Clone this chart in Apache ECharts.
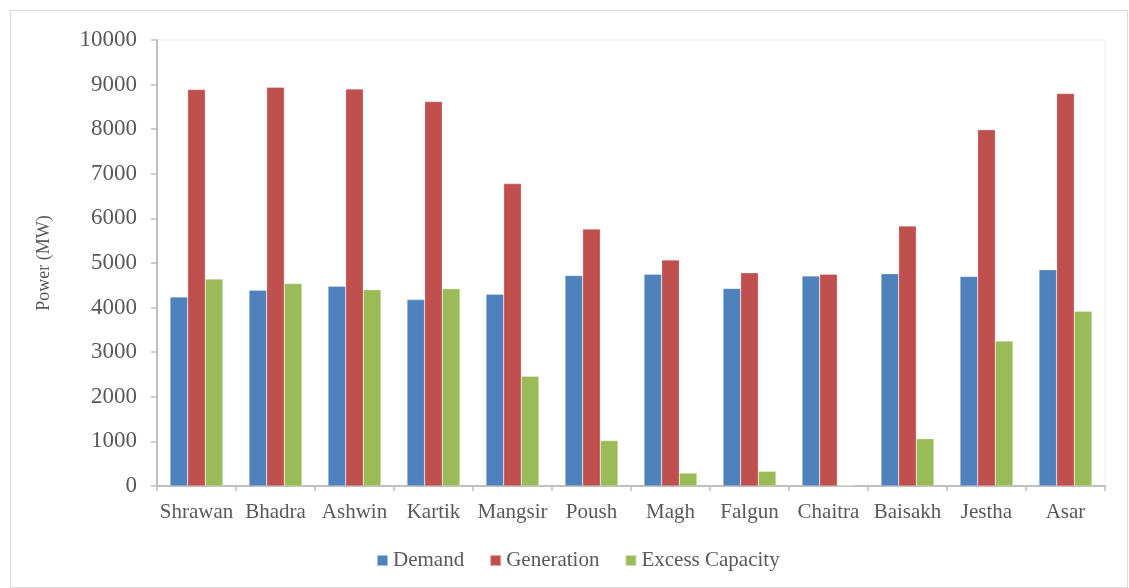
<!DOCTYPE html>
<html>
<head>
<meta charset="utf-8">
<script src="https://cdn.jsdelivr.net/npm/echarts@6/dist/echarts.min.js"></script>
<style>
  html, body { margin: 0; padding: 0; background: #fff; }
  #frame {
    position: absolute; left: 10px; top: 10px; width: 1118px; height: 578px;
    border: 1px solid #d9d9d9; box-sizing: border-box;
  }
  #chart { width: 1129px; height: 588px; }
</style>
</head>
<body>
<div id="frame"></div>
<div id="chart"></div>
<script>
// months of the Nepali calendar
const months = ["Shrawan", "Bhadra", "Ashwin", "Kartik", "Mangsir", "Poush",
  "Magh", "Falgun", "Chaitra", "Baisakh", "Jestha", "Asar"];

const demand = [4240, 4390, 4480, 4180, 4300, 4720, 4750, 4430, 4710, 4760, 4700, 4850];
const generation = [8890, 8940, 8900, 8620, 6780, 5760, 5070, 4780, 4750, 5830, 7990, 8800];
const excessCapacity = [4640, 4540, 4400, 4420, 2460, 1020, 290, 330, 15, 1060, 3250, 3920];

const yTicks = { min: 0, max: 10000, interval: 1000 };

const font = "'Liberation Serif', 'Times New Roman', serif";
const textColor = "#595959";

const chart = echarts.init(document.getElementById("chart"));

const barStyle = (color) => ({
  color: color,
  borderColor: "rgba(255,255,255,0.5)",
  borderWidth: 0.5,
});

chart.setOption({
  animation: false,
  textStyle: { fontFamily: font },
  grid: {
    left: 157,
    right: 24,
    top: 40,
    bottom: 102,
    show: true,
    borderColor: "#eef0f8",
    borderWidth: 1,
  },
  legend: {
    bottom: 12,
    left: 371,
    itemWidth: 11,
    itemHeight: 11,
    itemGap: 25,
    icon: "rect",
    textStyle: { fontFamily: font, fontSize: 21, color: textColor },
    data: ["Demand", "Generation", "Excess Capacity"],
  },
  xAxis: {
    type: "category",
    data: months,
    axisLine: { lineStyle: { color: "#bfbfbf", width: 2 } },
    axisTick: { show: true, length: 5, alignWithLabel: false, lineStyle: { color: "#bfbfbf", width: 1.5 } },
    axisLabel: { fontFamily: font, fontSize: 21, color: textColor, margin: 16, interval: 0 },
  },
  yAxis: {
    type: "value",
    min: yTicks.min,
    max: yTicks.max,
    interval: yTicks.interval,
    name: "Power (MW)",
    nameLocation: "middle",
    nameGap: 104,
    nameTextStyle: { fontFamily: font, fontSize: 18, color: textColor },
    axisLine: { show: true, lineStyle: { color: "#bfbfbf", width: 2 } },
    axisTick: { show: true, length: 6, lineStyle: { color: "#bfbfbf", width: 1.5 } },
    splitLine: { show: false },
    axisLabel: { fontFamily: font, fontSize: 23, color: textColor, margin: 20,
      formatter: (v) => String(v) },
  },
  series: [
    { name: "Demand", type: "bar", data: demand, barGap: "0%", barCategoryGap: "33%",
      itemStyle: barStyle("#4f81bd") },
    { name: "Generation", type: "bar", data: generation, barGap: "0%", barCategoryGap: "33%",
      itemStyle: barStyle("#c0504d") },
    { name: "Excess Capacity", type: "bar", data: excessCapacity, barGap: "0%", barCategoryGap: "33%",
      itemStyle: barStyle("#9bbb59") },
  ],
});
</script>
</body>
</html>
